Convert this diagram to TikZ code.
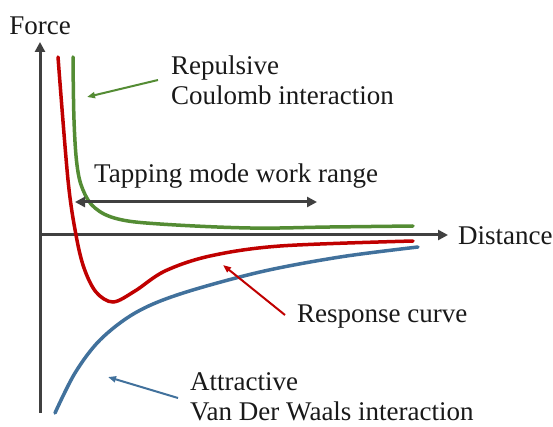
\documentclass[tikz,border=0pt]{standalone}
\usepackage{fontspec}
\setmainfont{Liberation Serif}
\usepackage{tikz}
\usetikzlibrary{arrows.meta}
\definecolor{forcegreen}{RGB}{84,140,52}
\definecolor{forcered}{RGB}{192,0,0}
\definecolor{forceblue}{RGB}{65,113,156}
\definecolor{axisgray}{RGB}{64,64,64}

\begin{document}
\begin{tikzpicture}[x=1pt, y=-1pt,
    lbl/.style={inner sep=0pt, font=\fontsize{27}{30}\selectfont, text=black!90, align=left},
    axis/.style={line width=3pt, axisgray, -{Triangle[length=10pt, width=10pt]}},
    curve/.style={line width=3.5pt, line cap=round},
    pointer/.style={line width=2pt, -{Triangle[length=8pt, width=6pt]}}]
    \useasboundingbox[fill=white] (0, 0) rectangle (553, 427);

    % axes
    \coordinate (origin) at (40, 235);
    \coordinate (ytop) at (40, 42);
    \coordinate (ybot) at (40, 413);
    \coordinate (xend) at (448, 235);
    \draw[line width=3pt, axisgray] (origin) -- (ybot);
    \draw[axis] (origin) -- (ytop);
    \draw[axis] (origin) -- (xend);
    \node[lbl, anchor=south] (force) at (40, 35) {Force};
    \node[lbl, anchor=west] (distance) at (458, 236) {Distance};

    % force curves
    \draw[curve, forcegreen] plot[smooth, tension=0.6] coordinates {(73, 57) (74, 120) (77, 165) (83, 190) (95, 208) (118, 219) (160, 224) (250, 228) (330, 227) (413, 226)};
    \draw[curve, forcered] plot[smooth, tension=0.55] coordinates {(58, 57) (68, 180) (76, 235) (84, 268) (96, 292) (113, 302) (135, 291) (165, 271) (210, 256) (280, 246) (413, 241)};
    \draw[curve, forceblue] plot[smooth, tension=0.55] coordinates {(55, 413) (75, 373) (100, 340) (135, 313) (180, 294) (260, 272) (340, 257) (418, 247)};

    % work range
    \coordinate (rangeL) at (75, 202);
    \coordinate (rangeR) at (317, 202);
    \draw[line width=3pt, axisgray, {Triangle[length=10pt, width=10pt]}-{Triangle[length=10pt, width=10pt]}] (rangeL) -- (rangeR);
    \node[lbl, anchor=west] (tapping) at (94, 176) {Tapping mode work range};

    % labels with pointers
    \node[lbl, anchor=west] (repulsive) at (171, 80) {Repulsive\\Coulomb interaction};
    \coordinate (greentail) at (158, 80);
    \coordinate (greenhead) at (87, 97);
    \draw[pointer, forcegreen] (greentail) -- (greenhead);

    \node[lbl, anchor=west] (response) at (297, 317) {Response curve};
    \coordinate (redtail) at (285, 315);
    \coordinate (redhead) at (223, 265);
    \draw[pointer, forcered] (redtail) -- (redhead);

    \node[lbl, anchor=west] (attractive) at (190, 397) {Attractive\\Van Der Waals interaction};
    \coordinate (bluetail) at (178, 398);
    \coordinate (bluehead) at (108, 377);
    \draw[pointer, forceblue] (bluetail) -- (bluehead);
\end{tikzpicture}
\end{document}
